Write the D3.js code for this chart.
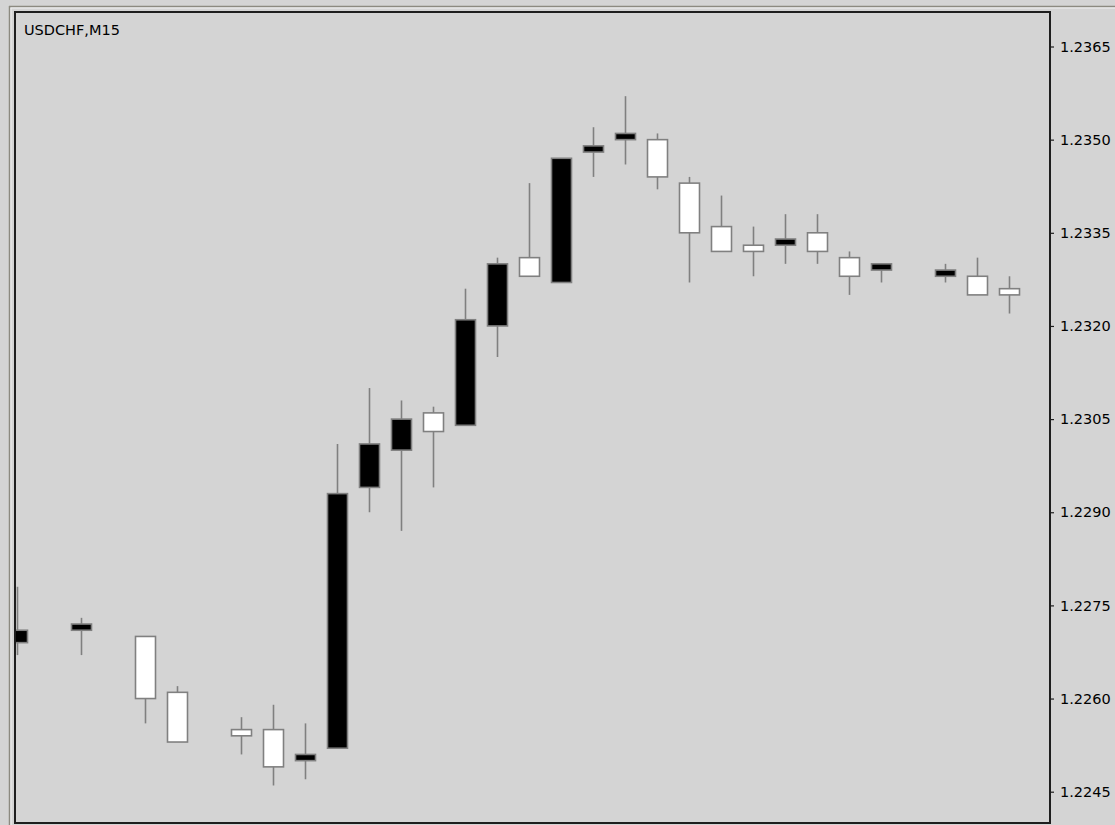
<!DOCTYPE html>
<html>
<head>
<meta charset="utf-8">
<script src="https://cdn.jsdelivr.net/npm/d3@7"></script>
<style>
  html, body { margin: 0; padding: 0; background: #d4d4d4; }
  svg { display: block; }
</style>
</head>
<body>
<svg id="chart" width="1115" height="825"></svg>
<script>
const symbol = "USDCHF,M15";
const slots = [0,2,4,5,7,8,9,10,11,12,13,14,15,16,17,18,19,20,21,22,23,24,25,26,27,29,30,31];
const opens = [1.2269,1.2271,1.2270,1.2261,1.2255,1.2255,1.2250,1.2252,1.2294,1.2300,1.2306,1.2304,1.2320,1.2331,1.2327,1.2348,1.2350,1.2350,1.2343,1.2336,1.2333,1.2333,1.2335,1.2331,1.2329,1.2328,1.2328,1.2326];
const highs = [1.2278,1.2273,1.2270,1.2262,1.2257,1.2259,1.2256,1.2301,1.2310,1.2308,1.2307,1.2326,1.2331,1.2343,1.2347,1.2352,1.2357,1.2351,1.2344,1.2341,1.2336,1.2338,1.2338,1.2332,1.2330,1.2330,1.2331,1.2328];
const lows  = [1.2267,1.2267,1.2256,1.2253,1.2251,1.2246,1.2247,1.2252,1.2290,1.2287,1.2294,1.2304,1.2315,1.2328,1.2327,1.2344,1.2346,1.2342,1.2327,1.2332,1.2328,1.2330,1.2330,1.2325,1.2327,1.2327,1.2325,1.2322];
const closes= [1.2271,1.2272,1.2260,1.2253,1.2254,1.2249,1.2251,1.2293,1.2301,1.2305,1.2303,1.2321,1.2330,1.2328,1.2347,1.2349,1.2351,1.2344,1.2335,1.2332,1.2332,1.2334,1.2332,1.2328,1.2330,1.2329,1.2325,1.2325];
const tickValues = [1.2245,1.2260,1.2275,1.2290,1.2305,1.2320,1.2335,1.2350,1.2365];

const data = slots.map((s,i)=>({slot:s, o:opens[i], h:highs[i], l:lows[i], c:closes[i]}));

const svg = d3.select("#chart");
const frame = {left:15, top:12, right:1050, bottom:823};

// window border lines
svg.append("rect").attr("x",0).attr("y",0).attr("width",1115).attr("height",825).attr("fill","#d4d4d4");
svg.append("line").attr("x1",9).attr("x2",1115).attr("y1",6.5).attr("y2",6.5).attr("stroke","#8c8a80").attr("stroke-width",1.5);
svg.append("line").attr("x1",9.5).attr("x2",9.5).attr("y1",6).attr("y2",825).attr("stroke","#8c8a80").attr("stroke-width",1.5);
svg.append("line").attr("x1",10.5).attr("x2",1115).attr("y1",8).attr("y2",8).attr("stroke","#f0f0f0").attr("stroke-width",1);
svg.append("line").attr("x1",11).attr("x2",11).attr("y1",8).attr("y2",825).attr("stroke","#f0f0f0").attr("stroke-width",1);

const x = d3.scaleLinear().domain([0,31]).range([17,1009]);
const y = d3.scaleLinear().domain([1.2245,1.2365]).range([791.7,46.5]);

svg.append("defs").append("clipPath").attr("id","plotclip")
  .append("rect").attr("x",frame.left).attr("y",frame.top)
  .attr("width",frame.right-frame.left).attr("height",frame.bottom-frame.top);

const plot = svg.append("g").attr("clip-path","url(#plotclip)");

const candle = plot.selectAll("g.candle").data(data).enter().append("g").attr("class","candle");
candle.append("line")
  .attr("x1",d=>Math.round(x(d.slot))+0.5).attr("x2",d=>Math.round(x(d.slot))+0.5)
  .attr("y1",d=>y(d.h)).attr("y2",d=>y(d.l))
  .attr("stroke","#808080").attr("stroke-width",1.6);
candle.append("rect")
  .attr("x",d=>Math.round(x(d.slot))-9.5)
  .attr("width",20)
  .attr("y",d=>y(Math.max(d.o,d.c)))
  .attr("height",d=>Math.max(1,Math.abs(y(d.o)-y(d.c))))
  .attr("fill",d=>d.c>=d.o?"#000":"#fff")
  .attr("stroke","#808080").attr("stroke-width",1.6);

// frame
svg.append("rect").attr("x",frame.left).attr("y",frame.top)
  .attr("width",frame.right-frame.left).attr("height",frame.bottom-frame.top)
  .attr("fill","none").attr("stroke","#1e1e1e").attr("stroke-width",2);

// right axis
const axis = d3.axisRight(y).tickValues(tickValues).tickSize(4).tickPadding(6).tickFormat(d3.format(".4f"));
const ag = svg.append("g").attr("transform",`translate(${frame.right},0)`).call(axis);
ag.select(".domain").remove();
ag.selectAll(".tick line").attr("stroke","#1e1e1e").attr("stroke-width",1.2);
ag.selectAll(".tick text").attr("fill","#000").attr("font-family","DejaVu Sans, Verdana, sans-serif").attr("font-size","14.5px");

// title
svg.append("text").attr("x",24).attr("y",35).text(symbol)
  .attr("fill","#000").attr("font-family","DejaVu Sans, Verdana, sans-serif").attr("font-size","14.5px");
</script>
</body>
</html>
